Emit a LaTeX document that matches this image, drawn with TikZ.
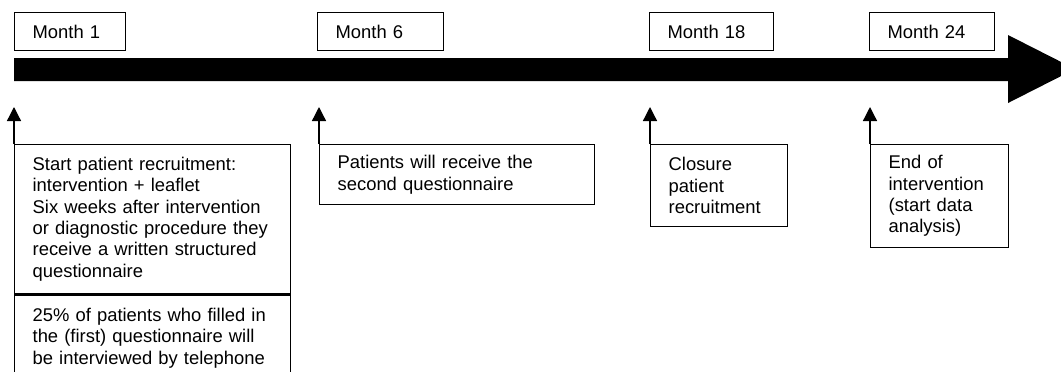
\documentclass[tikz,border=0pt]{standalone}
\usepackage{fontspec}
\setmainfont{Liberation Sans}
\usetikzlibrary{arrows.meta}

\begin{document}
\begin{tikzpicture}[x=0.5pt, y=-0.5pt,
    monthbox/.style={draw, line width=0.65pt, anchor=north west, align=left,
        inner xsep=9pt, inner ysep=0pt, minimum height=19pt,
        font=\fontsize{9.2}{10.65}\selectfont},
    notebox/.style={draw, line width=0.65pt, anchor=north west, align=left,
        inner xsep=9pt, inner ysep=0pt,
        font=\fontsize{9.2}{10.65}\selectfont},
    uparrow/.style={line width=0.65pt, -{Triangle[width=7pt, length=7pt]}}]
    \useasboundingbox (0,0) rectangle (1061,371);

    % 时间轴
    \fill (14,58) -- (1008,58) -- (1008,35) -- (1075,69) -- (1008,103)
        -- (1008,81) -- (14,81) -- cycle;

    % 月份
    \foreach \n/\x/\w/\t in {m1/14/37.5pt/Month 1, m6/317/45pt/Month 6,
                             m18/649/44pt/Month 18, m24/869/44.5pt/Month 24}
        \node[monthbox, text width=\w] (\n) at (\x,12) {\t};

    % 说明框
    \node[notebox, text width=120pt, minimum height=74.5pt] (b1) at (14,144)
        {Start patient recruitment:\\ intervention + leaflet\\
         Six weeks after intervention\\ or diagnostic procedure they\\
         receive a written structured\\ questionnaire};
    \node[notebox, text width=120pt, minimum height=43pt] (b1b) at (b1.south west)
        {25\% of patients who filled in\\ the (first) questionnaire will\\
         be interviewed by telephone};
    \node[notebox, text width=119.5pt, minimum height=30pt] (b6) at (319,144)
        {Patients will receive the\\ second questionnaire};
    \node[notebox, text width=50.5pt, minimum height=41pt] (b18) at (650,144)
        {Closure\\ patient\\ recruitment};
    \node[notebox, text width=51pt, minimum height=51.5pt] (b24) at (870,144)
        {End of\\ intervention\\ (start data\\ analysis)};

    % 箭头
    \coordinate (a1) at (14,107);
    \coordinate (a6) at (319,107);
    \coordinate (a18) at (650,107);
    \coordinate (a24) at (870,107);
    \draw[uparrow] (b1.north west) -- (a1);
    \draw[uparrow] (b6.north west) -- (a6);
    \draw[uparrow] (b18.north west) -- (a18);
    \draw[uparrow] (b24.north west) -- (a24);
\end{tikzpicture}
\end{document}
